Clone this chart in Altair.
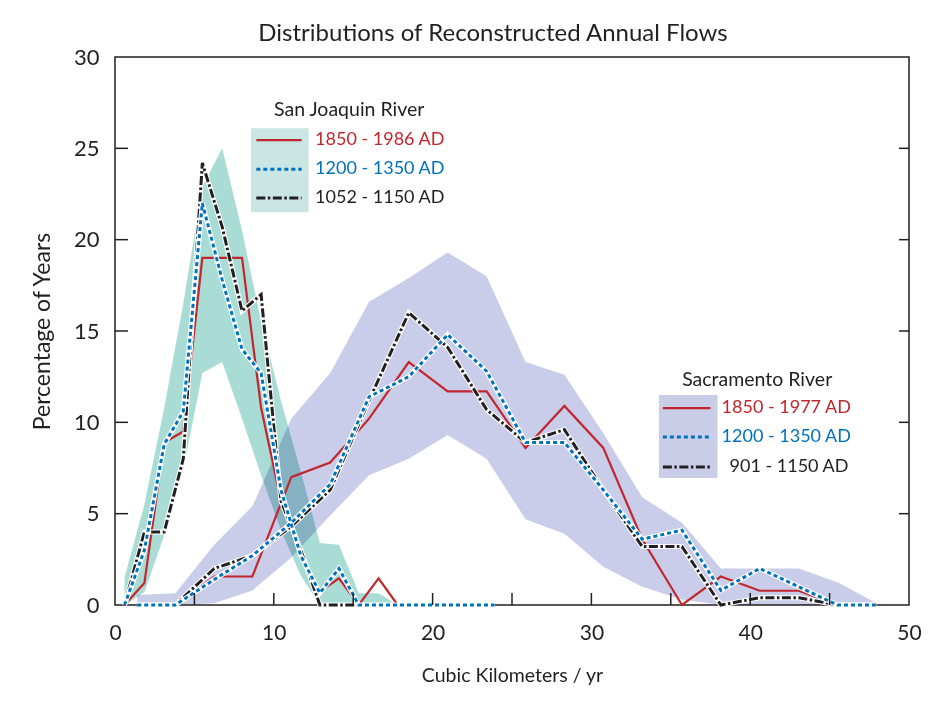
import altair as alt
import pandas as pd

# ---------------- data ----------------
# San Joaquin River  (x in km^3/yr, y in % of years)
sj_x = [0.6, 1.85, 3.1, 4.3, 5.5, 6.75, 8.0, 9.2, 10.45, 11.7, 12.9, 14.1,
        15.35, 16.6, 17.8, 19.0, 20.25, 21.45, 22.7, 23.9]
sj_1850_1986 = [0, 1.2, 8.9, 9.5, 19.0, 19.0, 19.0, 10.8, 5.7, 2.8, 0.73, 1.46,
                0, 1.46, 0]
sj_1200_1350 = [0, 3.0, 8.8, 10.6, 22.0, 17.8, 14.0, 12.7, 6.3, 2.7, 0.66, 2.0,
                0, 0, 0, 0, 0, 0, 0, 0]
sj_1052_1150 = [0, 4.0, 4.0, 8.0, 24.2, 20.7, 16.1, 17.0, 5.7, 3.0, 0, 0, 0]
sj_band_hi = [1.5, 5.5, 10.8, 16.5, 22.9, 25.0, 20.5, 15.5, 11.2, 7.3, 3.4, 3.3,
              0.65, 0.65, 0]
sj_band_lo = [0, 0.7, 3.8, 7.4, 12.7, 13.3, 10.2, 7.1, 4.1, 1.6, 0, 0,
              0, 0, 0]

# Sacramento River
sac_x = [1.4, 3.8, 6.25, 8.65, 11.1, 13.55, 16.0, 18.5, 20.95, 23.4, 25.85, 28.3,
         30.75, 33.2, 35.7, 38.15, 40.6, 43.05, 45.5, 47.95]
sac_1850_1977 = [0, 0, 1.56, 1.56, 7.0, 7.8, 10.2, 13.3, 11.7, 11.7, 8.6, 10.9,
                 8.6, 3.6, 0, 1.56, 0.78, 0.78, 0, 0]
sac_1200_1350 = [0, 0, 1.4, 2.7, 4.5, 6.6, 11.4, 12.5, 14.8, 12.8, 8.9, 8.9,
                 6.3, 3.6, 4.1, 0.8, 2.0, 1.0, 0, 0]
sac_901_1150 = [0, 0, 2.0, 2.7, 4.3, 6.3, 11.2, 16.0, 14.1, 10.7, 8.9, 9.6,
                6.3, 3.2, 3.2, 0, 0.4, 0.4, 0, 0]
sac_band_hi = [0.55, 0.65, 3.3, 5.4, 10.2, 12.7, 16.6, 17.9, 19.3, 18.0, 13.3, 12.6,
               9.4, 5.9, 4.5, 2.0, 2.0, 2.0, 1.25, 0.1]
sac_band_lo = [0, 0, 0.1, 0.8, 2.6, 4.9, 7.1, 8.0, 9.3, 8.0, 4.7, 3.9,
               2.1, 1.0, 0.3, 0, 0, 0, 0, 0]

x_ticks = [0, 10, 20, 30, 40, 50]
y_ticks = [0, 5, 10, 15, 20, 25, 30]
minor_x = [5, 10, 15, 20, 25, 30, 35, 40, 45]
minor_y = [5, 10, 15, 20, 25]

sj_labels = ["1850 - 1986 AD", "1200 - 1350 AD", "1052 - 1150 AD"]
sac_labels = ["1850 - 1977 AD", "1200 - 1350 AD", "901 - 1150 AD"]

# ---------------- styles ----------------
RED = "#c1272d"
BLUE = "#0072bc"
BLACK = "#231f20"
TEAL = "#a9dcd5"
LAV = "#c9cde9"
SJ_BOX = "#c9e6e4"
SAC_BOX = "#c9cde7"
FONT = "Lato"
STYLES = ["red", "blue", "black"]
COLORS = {"red": RED, "blue": BLUE, "black": BLACK}

# legend placement (data units)
SJ_LEG = dict(title=(14.75, 27.1), sym=(8.9, 11.75), rows=[25.45, 23.86, 22.28],
              text_x=[12.6, 12.6, 12.6], box=(8.56, 12.19, 21.5, 26.1))
SAC_LEG = dict(title=(40.44, 12.3), sym=(34.5, 37.5), rows=[10.78, 9.2, 7.55],
               text_x=[38.2, 38.2, 38.7], box=(34.25, 37.94, 6.95, 11.49))

# ---------------- tables ----------------
rows = []
for name, style, xs_, ys_ in [
    ("sj1", "red", sj_x, sj_1850_1986),
    ("sj2", "blue", sj_x, sj_1200_1350),
    ("sj3", "black", sj_x, sj_1052_1150),
    ("sac1", "red", sac_x, sac_1850_1977),
    ("sac2", "blue", sac_x, sac_1200_1350),
    ("sac3", "black", sac_x, sac_901_1150),
]:
    for i, (a, b) in enumerate(zip(xs_, ys_)):
        rows.append({"series": name, "style": style, "x": a, "y": b, "order": i})
lines = pd.DataFrame(rows)

bands = pd.concat([
    pd.DataFrame({"band": "sac", "x": sac_x, "y": sac_band_lo, "hi": sac_band_hi}),
    pd.DataFrame({"band": "sj", "x": sj_x[:len(sj_band_hi)], "y": sj_band_lo, "hi": sj_band_hi}),
])

leg_sym, leg_txt, leg_box, leg_title = [], [], [], []
for river, leg, labels, boxc, ttl in [("sj", SJ_LEG, sj_labels, SJ_BOX, "San Joaquin River"),
                                      ("sac", SAC_LEG, sac_labels, SAC_BOX, "Sacramento River")]:
    for k, (lab, yy, tx, st) in enumerate(zip(labels, leg["rows"], leg["text_x"], STYLES)):
        for j, xx in enumerate(leg["sym"]):
            leg_sym.append({"series": f"{river}{k}", "style": st, "x": xx, "y": yy, "order": j})
        leg_txt.append({"x": tx, "y": yy, "label": lab, "color": COLORS[st]})
    b = leg["box"]
    leg_box.append({"x": b[0], "x2": b[1], "y": b[2], "y2": b[3], "color": boxc})
    leg_title.append({"x": leg["title"][0], "y": leg["title"][1], "label": ttl})
leg_sym = pd.DataFrame(leg_sym)
leg_txt = pd.DataFrame(leg_txt)
leg_box = pd.DataFrame(leg_box)
leg_title = pd.DataFrame(leg_title)

# ---------------- scales / axes ----------------
xs = alt.Scale(domain=[0, 50], nice=False, zero=False)
ys = alt.Scale(domain=[0, 30], nice=False, zero=False)
xaxis = alt.Axis(values=x_ticks, title="Cubic Kilometers / yr", ticks=False, tickSize=0,
                 domain=False, grid=False, labelFont=FONT, labelFontSize=21,
                 labelColor=BLACK, labelPadding=17, labelFlush=False,
                 titleFont=FONT, titleFontSize=19.5, titleFontWeight="normal",
                 titleColor=BLACK, titlePadding=23)
yaxis = alt.Axis(values=y_ticks, title="Percentage of Years", ticks=False, tickSize=0,
                 domain=False, grid=False, labelFont=FONT, labelFontSize=22,
                 labelColor=BLACK, labelPadding=16, labelFlush=False,
                 titleFont=FONT, titleFontSize=23, titleFontWeight="normal",
                 titleColor=BLACK, titlePadding=19)
X = alt.X("x:Q", scale=xs, axis=xaxis)
Y = alt.Y("y:Q", scale=ys, axis=yaxis)

W, H = 794, 548

band_layer = alt.Chart(bands).mark_area(blend="multiply", opacity=1).encode(
    x=X, y=Y, y2="hi:Q",
    color=alt.Color("band:N", scale=alt.Scale(domain=["sac", "sj"], range=[LAV, TEAL]), legend=None),
    detail="band:N",
)

box_layer = alt.Chart(leg_box).mark_rect().encode(
    x=X, x2="x2:Q", y=Y, y2="y2:Q", color=alt.Color("color:N", scale=None))


def styled(df, casing=True):
    out = []
    base = alt.Chart(df)
    out.append(base.transform_filter("datum.style == 'red'").mark_line(
        color=RED, strokeWidth=2.2).encode(x=X, y=Y, detail="series:N", order="order:Q"))
    for st, dash in [("black", [9, 2.5, 2.5, 2.5]), ("blue", [4, 3])]:
        f = base.transform_filter(f"datum.style == '{st}'")
        if casing:
            out.append(f.mark_line(color="white", strokeWidth=5).encode(
                x=X, y=Y, detail="series:N", order="order:Q"))
        out.append(f.mark_line(color=COLORS[st], strokeWidth=3, strokeDash=dash).encode(
            x=X, y=Y, detail="series:N", order="order:Q"))
    return out


line_layers = styled(lines, casing=True)
legsym_layers = styled(leg_sym, casing=False)

leg_text_layer = alt.Chart(leg_txt).mark_text(
    align="left", baseline="middle", font=FONT, fontSize=18).encode(
    x=X, y=Y, text="label:N", color=alt.Color("color:N", scale=None))
leg_title_layer = alt.Chart(leg_title).mark_text(
    align="center", baseline="middle", font=FONT, fontSize=19.5, color=BLACK).encode(
    x=X, y=Y, text="label:N")

tick_x = pd.DataFrame({"x": minor_x})
tick_y = pd.DataFrame({"y": minor_y})
tick_bottom = alt.Chart(tick_x).mark_rule(color=BLACK, strokeWidth=1.5).encode(
    x=X, y=alt.value(H), y2=alt.value(H - 12))
tick_left = alt.Chart(tick_y).mark_rule(color=BLACK, strokeWidth=1.5).encode(
    y=Y, x=alt.value(0), x2=alt.value(13))
tick_right = alt.Chart(tick_y).mark_rule(color=BLACK, strokeWidth=1.5).encode(
    y=Y, x=alt.value(W), x2=alt.value(W - 10))

chart = alt.layer(
    band_layer, box_layer, *line_layers, *legsym_layers, leg_text_layer, leg_title_layer,
    tick_bottom, tick_left, tick_right,
).properties(
    width=W, height=H,
    background="white",
    title=alt.Title("Distributions of Reconstructed Annual Flows", font=FONT, fontSize=24,
                    fontWeight="normal", color=BLACK, dx=-19, offset=0),
    autosize=alt.AutoSizeParams(type="none"),
    padding={"left": 107, "top": 49, "right": 12, "bottom": 93},
).configure_view(stroke=BLACK, strokeWidth=1.5)

chart.save("out.html", embed_options={"renderer": "svg", "actions": False})
